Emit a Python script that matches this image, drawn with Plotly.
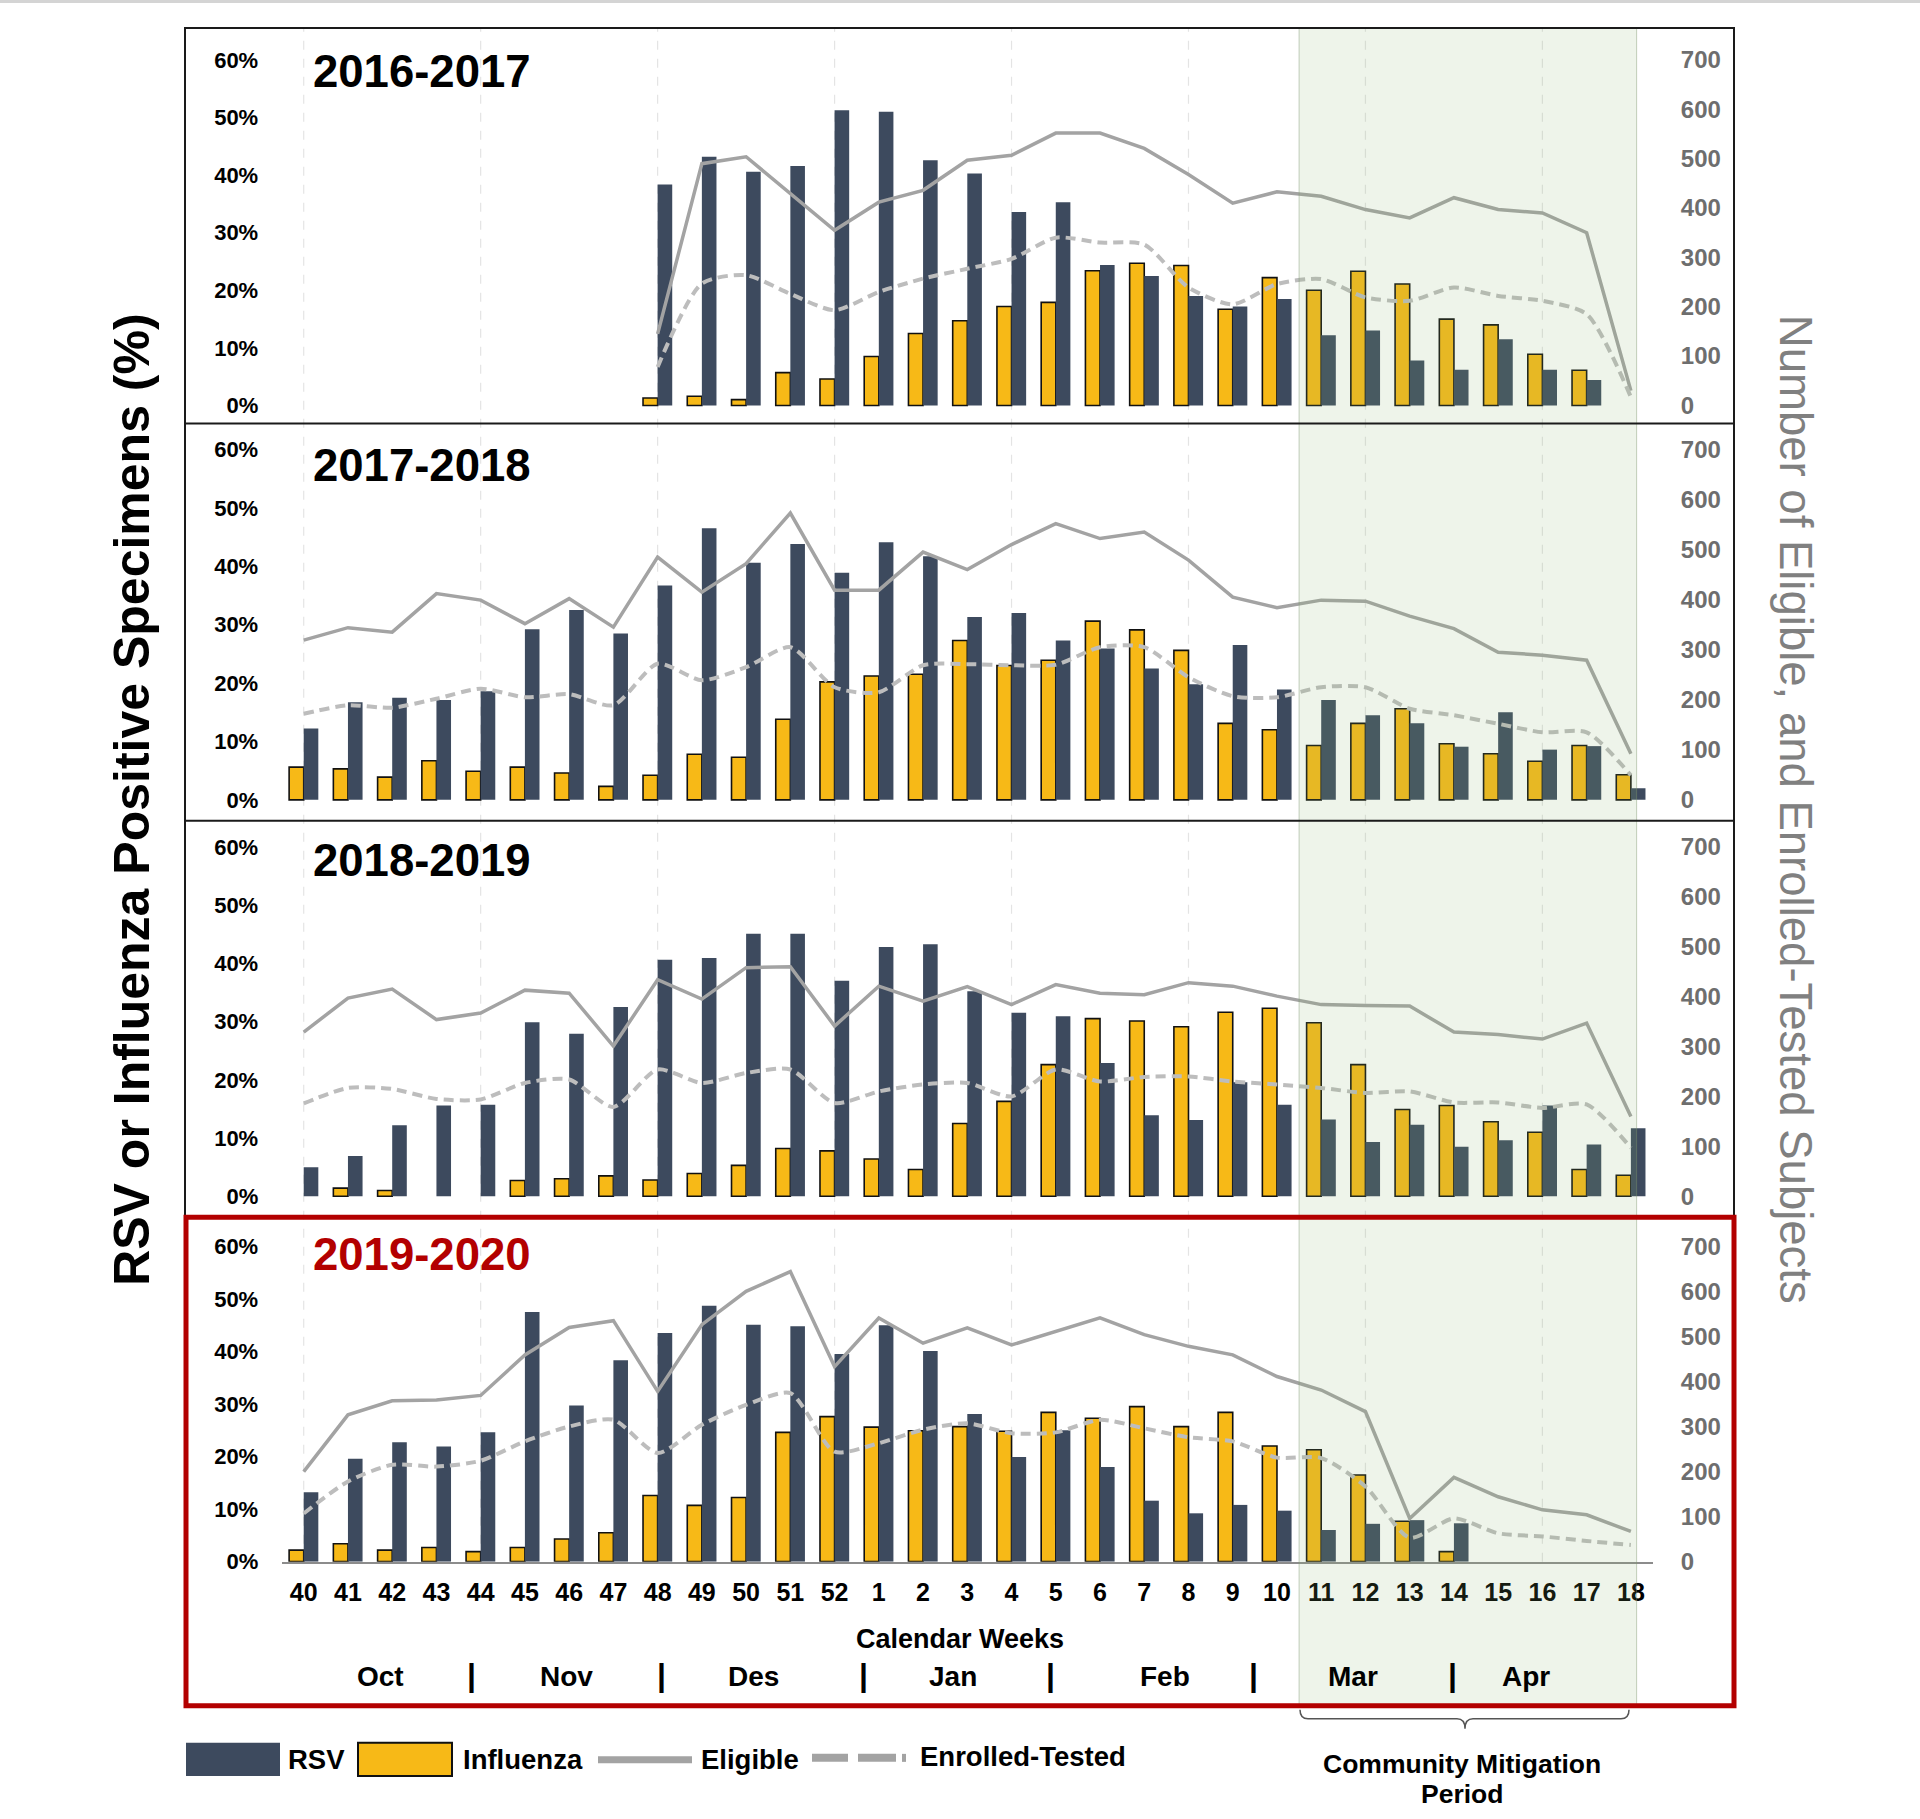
import plotly.graph_objects as go
from plotly.subplots import make_subplots

# ---------------- data ----------------
weeks = [40, 41, 42, 43, 44, 45, 46, 47, 48, 49, 50, 51, 52,
         1, 2, 3, 4, 5, 6, 7, 8, 9, 10, 11, 12, 13, 14, 15, 16, 17, 18]
week_labels = [str(w) for w in weeks]
seasons = ["2016-2017", "2017-2018", "2018-2019", "2019-2020"]

flu_2016_2017 = [None, None, None, None, None, None, None, None,
                 1.3, 1.6, 1.0, 5.7, 4.6, 8.5, 12.5, 14.7, 17.2, 17.9, 23.4, 24.7, 24.3,
                 16.7, 22.2, 20.0, 23.3, 21.1, 15.0, 14.0, 8.9, 6.1, None]
rsv_2016_2017 = [None, None, None, None, None, None, None, None,
                 38.4, 43.2, 40.6, 41.6, 51.3, 51.0, 42.6, 40.3, 33.6, 35.3, 24.4, 22.5, 19.0,
                 17.2, 18.5, 12.2, 13.0, 7.8, 6.2, 11.5, 6.2, 4.4, None]
elig_2016_2017 = [None, None, None, None, None, None, None, None,
                  145, 490, 504, 429, 355, 412, 436, 497, 507, 552, 552, 521, 468,
                  410, 433, 424, 397, 380, 421, 397, 390, 350, 30]
enr_2016_2017 = [None, None, None, None, None, None, None, None,
                 78, 247, 264, 226, 193, 230, 257, 277, 297, 340, 330, 326, 239,
                 205, 246, 256, 219, 212, 239, 222, 212, 185, 17]

flu_2017_2018 = [5.6, 5.3, 3.9, 6.7, 4.9, 5.6, 4.6, 2.3, 4.2, 7.8, 7.3, 13.8, 20.2, 21.2, 21.5, 27.3,
                 23.0, 23.9, 30.6, 29.1, 25.6, 13.1, 12.0, 9.3, 13.1, 15.6, 9.6, 7.9, 6.6, 9.3, 4.3]
rsv_2017_2018 = [12.2, 16.7, 17.5, 17.1, 18.6, 29.2, 32.5, 28.5, 36.7, 46.5, 40.6, 43.8, 38.9, 44.1, 41.7, 31.3,
                 32.0, 27.3, 25.9, 22.5, 19.8, 26.5, 18.9, 17.1, 14.5, 13.1, 9.1, 15.0, 8.6, 9.2, 2.0]
elig_2017_2018 = [319, 344, 335, 412, 399, 352, 402, 345, 485, 415, 472, 573, 419, 419, 495, 460,
                  510, 552, 522, 535, 479, 405, 384, 399, 397, 367, 342, 295, 289, 279, 92]
enr_2017_2018 = [172, 189, 184, 202, 222, 205, 211, 189, 272, 239, 265, 305, 225, 215, 269, 271,
                 269, 270, 305, 305, 245, 207, 205, 225, 225, 182, 169, 152, 135, 135, 49]

flu_2018_2019 = [None, 1.4, 1.0, None, None, 2.7, 3.0, 3.5, 2.8, 3.9, 5.3, 8.2, 7.8, 6.4, 4.6, 12.5,
                 16.3, 22.6, 30.5, 30.1, 29.1, 31.6, 32.3, 29.8, 22.6, 14.9, 15.6, 12.8, 11.0, 4.6, 3.6]
rsv_2018_2019 = [5.0, 6.9, 12.2, 15.6, 15.7, 29.9, 27.9, 32.5, 40.6, 40.9, 45.1, 45.1, 37.0, 42.8, 43.3, 35.2,
                 31.5, 30.9, 22.9, 13.9, 13.1, 19.6, 15.7, 13.2, 9.3, 12.3, 8.5, 9.6, 15.6, 8.9, 11.7]
elig_2018_2019 = [329, 397, 415, 354, 367, 413, 407, 301, 434, 395, 458, 460, 341, 421, 391, 420,
                  384, 424, 407, 404, 428, 421, 401, 384, 382, 381, 329, 324, 315, 347, 160]
enr_2018_2019 = [186, 217, 215, 195, 194, 227, 234, 179, 254, 227, 247, 254, 187, 210, 224, 227,
                 200, 254, 230, 239, 240, 230, 224, 217, 207, 210, 188, 188, 177, 184, 97]

flu_2019_2020 = [2.2, 3.4, 2.2, 2.7, 1.9, 2.7, 4.3, 5.5, 12.6, 10.7, 12.2, 24.6, 27.6, 25.6, 24.9, 25.7,
                 24.8, 28.4, 27.3, 29.5, 25.7, 28.4, 22.0, 21.3, 16.5, 7.7, 1.9, None, None, None, None]
rsv_2019_2020 = [13.2, 19.6, 22.7, 21.9, 24.6, 47.5, 29.7, 38.3, 43.5, 48.7, 45.1, 44.8, 39.5, 45.0, 40.1, 28.1,
                 19.9, 25.0, 18.0, 11.6, 9.2, 10.8, 9.7, 6.0, 7.2, 7.9, 7.3, None, None, None, None]
elig_2019_2020 = [200, 326, 357, 359, 369, 459, 520, 535, 378, 526, 600, 644, 433, 541, 485, 519,
                  481, 511, 541, 504, 478, 459, 411, 381, 333, 96, 187, 144, 115, 104, 67]
enr_2019_2020 = [107, 178, 215, 211, 224, 267, 300, 315, 241, 304, 348, 374, 244, 263, 293, 307,
                 285, 287, 315, 296, 276, 267, 231, 230, 167, 53, 96, 63, 56, 46, 37]

flu_series = [flu_2016_2017, flu_2017_2018, flu_2018_2019, flu_2019_2020]
rsv_series = [rsv_2016_2017, rsv_2017_2018, rsv_2018_2019, rsv_2019_2020]
elig_series = [elig_2016_2017, elig_2017_2018, elig_2018_2019, elig_2019_2020]
enr_series = [enr_2016_2017, enr_2017_2018, enr_2018_2019, enr_2019_2020]

pct_ticks = [0, 10, 20, 30, 40, 50, 60]
num_ticks = [0, 100, 200, 300, 400, 500, 600, 700]
months = ["Oct", "Nov", "Des", "Jan", "Feb", "Mar", "Apr"]

# ---------------- layout helpers ----------------
W, H = 1920, 1819
VSCALE = 0.9918   # compensates the vertical squeeze seen in the rendered photo
def px(x):
    return x / W
def py(y):
    return 1 - (y / VSCALE) / H

NAVY = "#3d4a5e"
YEL = "#f7b917"
ELIG = "#a3a3a3"
ENR = "#bdbdbd"
RED = "#b30000"
FONT = "Liberation Sans, Arial, sans-serif"

# panel geometry in pixels: frame top, frame bottom, 60% line, 0% line
panels = [(28, 423, 60, 405), (423, 820, 449, 799), (820, 1215, 846, 1195), (1215, 1560, 1245, 1560)]
x_left_px, x_right_px = 281.6, 1653.0

xi = list(range(len(weeks)))
fig = make_subplots(rows=4, cols=1, specs=[[{"secondary_y": True}] for _ in range(4)])

for r in range(4):
    row = r + 1
    fig.add_trace(go.Bar(x=xi, y=flu_series[r], name="Influenza", showlegend=False,
                         marker=dict(color=YEL, line=dict(color="#111111", width=1.6))),
                  row=row, col=1, secondary_y=False)
    fig.add_trace(go.Bar(x=xi, y=rsv_series[r], name="RSV", showlegend=False,
                         marker=dict(color=NAVY, line=dict(width=0))),
                  row=row, col=1, secondary_y=False)
    fig.add_trace(go.Scatter(x=xi, y=elig_series[r], mode="lines", name="Eligible", showlegend=False,
                             line=dict(color=ELIG, width=3.5)),
                  row=row, col=1, secondary_y=True)
    fig.add_trace(go.Scatter(x=xi, y=enr_series[r], mode="lines", name="Enrolled-Tested", showlegend=False,
                             line=dict(color=ENR, width=4, dash="10px,6px", shape="spline", smoothing=0.7)),
                  row=row, col=1, secondary_y=True)

    ft, fb, y60, y0 = panels[r]
    ppp = (y0 - y60) / 60.0
    bot_px = fb if r < 3 else y0
    lo = -(bot_px - y0) / ppp
    hi = 60 + (y60 - ft) / ppp
    dom = [py(bot_px), py(ft)]
    fig.update_xaxes(domain=[px(x_left_px), px(x_right_px)], range=[-0.5, 30.5],
                     tickmode="array", tickvals=xi, ticktext=week_labels,
                     showticklabels=(r == 3), showgrid=False, zeroline=False,
                     ticks="outside" if r == 3 else "", ticklen=7, tickcolor="rgba(0,0,0,0)",
                     showline=(r == 3), linecolor="#8c8c8c", linewidth=2,
                     tickfont=dict(family=FONT, size=25, color="black", weight="bold"),
                     row=row, col=1)
    fig.update_yaxes(domain=dom, range=[lo, hi], tickmode="array", tickvals=pct_ticks,
                     ticktext=[f"{v}%" for v in pct_ticks], showgrid=False, zeroline=False,
                     ticks="outside", ticklen=18, tickcolor="rgba(0,0,0,0)",
                     tickfont=dict(family=FONT, size=22, color="black", weight="bold"),
                     row=row, col=1, secondary_y=False)
    fig.update_yaxes(range=[lo * 700 / 60, hi * 700 / 60], tickmode="array", tickvals=num_ticks,
                     showgrid=False, zeroline=False,
                     ticks="outside", ticklen=22, tickcolor="rgba(0,0,0,0)",
                     tickfont=dict(family=FONT, size=24, color="#6e6e6e", weight="bold"),
                     row=row, col=1, secondary_y=True)

shapes = []
ann = []

# vertical dashed gridlines every 4 weeks
for k in range(0, 31, 4):
    shapes.append(dict(type="line", xref="x", yref="paper", x0=k, x1=k, y0=py(1560), y1=py(28),
                       line=dict(color="#e4e4e4", width=1.2, dash="dash"), layer="below"))

# community mitigation shading
shapes.append(dict(type="rect", xref="x", yref="paper", x0=22.5, x1=30.13, y0=py(1706), y1=py(28),
                   fillcolor="rgb(142,182,115)", opacity=0.15, line=dict(width=0), layer="above"))
for xe in (22.5, 30.13):
    shapes.append(dict(type="line", xref="x", yref="paper", x0=xe, x1=xe, y0=py(1706), y1=py(28),
                       line=dict(color="rgba(125,150,110,0.45)", width=1), layer="above"))

# panel frames
shapes.append(dict(type="rect", xref="paper", yref="paper", x0=px(185), x1=px(1734), y0=py(1215), y1=py(28),
                   line=dict(color="#1a1a1a", width=2), layer="above"))
for yl in (423, 820):
    shapes.append(dict(type="line", xref="paper", yref="paper", x0=px(185), x1=px(1734), y0=py(yl), y1=py(yl),
                       line=dict(color="#1a1a1a", width=2), layer="above"))
shapes.append(dict(type="rect", xref="paper", yref="paper", x0=px(186), x1=px(1734), y0=py(1704), y1=py(1216),
                   line=dict(color=RED, width=5), layer="above"))

# brace under mitigation period
bx1, bx2, bxm = 1300, 1629, 1465
byt, byb, byp = 1708, 1717, 1727
path = (f"M {px(bx1)},{py(byt)} Q {px(bx1)},{py(byb)} {px(bx1+8)},{py(byb)} "
        f"L {px(bxm-8)},{py(byb)} Q {px(bxm)},{py(byb)} {px(bxm)},{py(byp)} "
        f"Q {px(bxm)},{py(byb)} {px(bxm+8)},{py(byb)} L {px(bx2-8)},{py(byb)} "
        f"Q {px(bx2)},{py(byb)} {px(bx2)},{py(byt)}")
shapes.append(dict(type="path", xref="paper", yref="paper", path=path, line=dict(color="#555555", width=1.5)))

# legend swatches
shapes.append(dict(type="rect", xref="paper", yref="paper", x0=px(186), x1=px(280), y0=py(1774), y1=py(1741),
                   fillcolor=NAVY, line=dict(width=0)))
shapes.append(dict(type="rect", xref="paper", yref="paper", x0=px(358), x1=px(452), y0=py(1774), y1=py(1741),
                   fillcolor=YEL, line=dict(color="#111111", width=2)))
shapes.append(dict(type="line", xref="paper", yref="paper", x0=px(598), x1=px(692), y0=py(1758), y1=py(1758),
                   line=dict(color=ELIG, width=7)))
for a, b in ((812, 848), (858, 896), (902, 906)):
    shapes.append(dict(type="line", xref="paper", yref="paper", x0=px(a), x1=px(b), y0=py(1756), y1=py(1756),
                       line=dict(color=ELIG, width=8)))

# thin grey line at the top of the screenshot
shapes.append(dict(type="rect", xref="paper", yref="paper", x0=0, x1=1, y0=py(3), y1=1,
                   fillcolor="#d4d4d4", line=dict(width=0)))

def note(text, x, y, size, xref="paper", xanchor="center", color="black", weight="bold", angle=0):
    return dict(text=text, xref=xref, yref="paper", x=x, y=y, xanchor=xanchor, yanchor="middle",
                showarrow=False, textangle=angle,
                font=dict(family=FONT, size=size, color=color, weight=weight))

# season titles
title_y = [71, 465, 860, 1253]
for i, s in enumerate(seasons):
    ann.append(note(s, px(311), py(title_y[i]), 45.5, xanchor="left", color=RED if i == 3 else "black"))

# axis titles
ann.append(note("RSV or Influenza Positive Specimens (%)", px(132), py(799), 50, angle=-90))
ann.append(note("Number of Eligible, and Enrolled-Tested Subjects", px(1795), py(808), 45.5,
                color="#808080", weight="normal", angle=90))
ann.append(note("Calendar Weeks", px(960), py(1637), 27))

month_pos = [1.74, 5.95, 10.16, 14.67, 19.46, 23.72, 27.62]
sep_pos = [3.79, 8.08, 12.65, 16.88, 21.48, 25.96]
for m, xm in zip(months, month_pos):
    ann.append(note(m, xm, py(1675), 28, xref="x4"))
for xs in sep_pos:
    ann.append(note("|", xs, py(1673), 32, xref="x4"))

# legend texts
for txt, xl, yl in (("RSV", 286, 1758), ("Influenza", 461, 1758), ("Eligible", 699, 1758),
                    ("Enrolled-Tested", 918, 1755)):
    ann.append(note(txt, px(xl), py(yl), 27.5, xanchor="left"))
ann.append(note("Community Mitigation", px(1462), py(1762), 26.5))
ann.append(note("Period", px(1462), py(1792), 26.5))

fig.update_layout(width=W, height=H, autosize=False, margin=dict(l=0, r=0, t=0, b=0),
                  paper_bgcolor="white", plot_bgcolor="rgba(0,0,0,0)",
                  barmode="group", bargap=0.34, bargroupgap=0.0,
                  showlegend=False, shapes=shapes, annotations=ann,
                  font=dict(family=FONT))

fig.write_html("out.html", config={"displayModeBar": False},
               post_script="document.documentElement.style.overflow='hidden';"
                           "document.body.style.margin='0';document.body.style.overflow='hidden';")
